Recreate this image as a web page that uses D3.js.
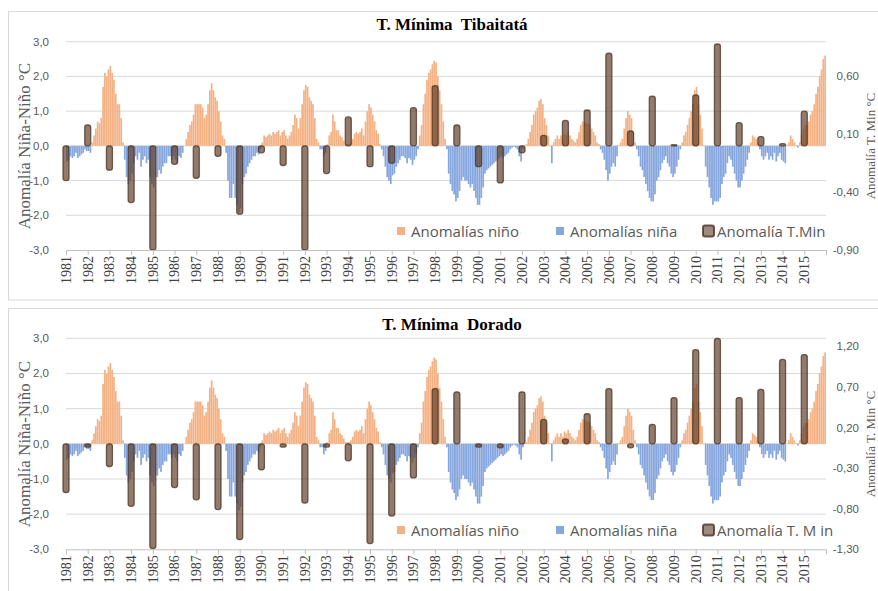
<!DOCTYPE html>
<html><head><meta charset="utf-8">
<script src="https://cdn.jsdelivr.net/npm/d3@7/dist/d3.min.js"></script>
<style>body{margin:0;background:#fff;} svg{display:block;}</style>
</head><body>
<svg id="c" width="878" height="591"></svg>
<script>
// ---------- DATA ----------
const years = d3.range(1981, 2016);
const yearLabels = years.map(String);
// Monthly ENSO anomaly (°C), one row per year 1981..2015
const ensoMonthly = [
 -0.45,-0.4,-0.3,-0.35,-0.3,-0.2,-0.35,-0.3,-0.25,-0.2,-0.1,-0.15,
 -0.15,-0.2,0.1,0.3,0.5,0.7,0.65,0.8,1.7,2.1,2.0,2.2,
 2.3,2.1,1.9,1.5,1.2,1.2,0.8,0.1,-0.4,-0.9,-1.1,-1.0,
 -0.8,-0.5,-0.3,-0.4,-0.2,-0.6,-0.4,-0.3,-0.5,-0.4,-0.9,-1.1,
 -1.2,-0.9,-0.9,-0.7,-0.8,-0.6,-0.5,-0.5,-0.3,-0.3,-0.4,-0.3,
 -0.4,-0.5,-0.3,-0.35,-0.2,0.0,0.2,0.4,0.6,0.7,0.9,1.2,
 1.2,1.2,1.2,1.1,0.8,0.9,1.2,1.6,1.8,1.6,1.4,1.3,
 1.0,0.7,0.3,0.2,-0.2,-1.0,-1.5,-1.5,-1.1,-1.5,-1.7,-1.9,
 -1.8,-1.1,-0.9,-0.8,-0.6,-0.5,-0.4,-0.3,-0.3,-0.2,-0.25,-0.1,
 0.1,0.3,0.25,0.3,0.35,0.3,0.4,0.35,0.4,0.45,0.3,0.4,
 0.45,0.3,0.2,0.3,0.4,0.6,0.9,0.8,0.5,0.8,1.2,1.6,
 1.75,1.7,1.4,1.3,1.2,0.8,0.2,0.1,-0.1,-0.1,-0.3,-0.2,
 0.05,0.3,0.4,0.9,0.7,0.45,0.45,0.3,0.25,0.15,0.05,0.05,
 0.05,0.1,0.2,0.35,0.4,0.35,0.4,0.5,0.3,0.7,1.0,1.2,
 1.1,0.9,0.7,0.45,0.35,0.05,-0.1,-0.3,-0.6,-0.9,-1.0,-1.1,
 -0.85,-0.8,-0.6,-0.5,-0.4,-0.3,-0.3,-0.35,-0.5,-0.35,-0.4,-0.55,
 -0.4,-0.3,-0.1,0.3,0.6,1.2,1.5,1.9,2.1,2.2,2.35,2.45,
 2.4,2.0,1.6,1.2,0.7,0.2,-0.1,-0.8,-1.1,-1.3,-1.4,-1.6,
 -1.5,-1.3,-1.0,-0.9,-1.0,-1.0,-1.1,-1.2,-1.1,-1.3,-1.5,-1.7,
 -1.7,-1.5,-1.2,-0.8,-0.7,-0.65,-0.6,-0.55,-0.5,-0.45,-0.4,-0.35,
 -0.3,-0.35,-0.3,-0.25,-0.2,-0.1,-0.05,-0.02,-0.05,-0.1,-0.3,-0.45,
 -0.1,0.02,0.05,0.2,0.4,0.6,0.9,1.0,1.1,1.3,1.35,1.2,
 0.8,0.6,0.3,0.02,-0.5,0.1,0.2,0.3,0.2,0.3,0.2,0.35,
 0.3,0.4,0.3,0.2,0.15,0.1,0.2,0.4,0.6,0.7,0.7,0.65,
 0.65,0.6,0.5,0.4,0.3,0.1,0.05,-0.1,-0.2,-0.4,-0.7,-1.0,
 -0.8,-0.6,-0.5,-0.6,-0.3,0.02,0.1,0.2,0.5,0.8,1.0,0.9,
 0.8,0.4,0.1,-0.1,-0.3,-0.6,-0.7,-0.9,-1.1,-1.3,-1.5,-1.6,
 -1.6,-1.4,-1.0,-0.9,-0.7,-0.5,-0.4,-0.3,-0.5,-0.6,-0.8,-0.9,
 -0.8,-0.6,-0.4,-0.1,0.1,0.3,0.4,0.6,0.8,1.0,1.2,1.6,
 1.7,1.2,0.9,0.5,0.02,-0.6,-0.9,-1.2,-1.5,-1.7,-1.6,-1.6,
 -1.6,-1.5,-1.1,-0.9,-0.8,-0.5,-0.3,-0.4,-0.6,-0.8,-1.0,-1.2,
 -1.2,-1.0,-0.8,-0.6,-0.4,-0.2,0.1,0.3,0.25,0.2,0.1,-0.1,
 -0.3,-0.4,-0.3,-0.2,-0.4,-0.3,-0.4,-0.2,-0.45,-0.3,-0.2,-0.4,
 -0.45,-0.5,0.02,0.1,0.3,0.2,0.1,0.02,-0.05,0.1,0.3,0.5,
 0.6,0.6,0.7,0.9,1.0,1.2,1.5,1.7,2.0,2.2,2.5,2.6
];
// Annual minimum temperature anomaly (°C), secondary axis
const tminTibaitata = [-0.30,0.18,-0.21,-0.49,-0.90,-0.16,-0.28,-0.09,-0.59,-0.06,-0.17,-0.90,-0.24,0.25,-0.18,-0.15,0.33,0.52,0.18,-0.18,-0.32,-0.06,0.09,0.22,0.31,0.80,0.13,0.43,0.01,0.44,0.88,0.20,0.08,0.02,0.30];
const tminDorado = [-0.60,-0.04,-0.28,-0.77,-1.29,-0.54,-0.69,-0.81,-1.18,-0.32,-0.04,-0.73,-0.04,-0.21,-1.23,-0.89,-0.42,0.68,0.64,-0.04,-0.05,0.64,0.30,0.06,0.37,0.68,-0.05,0.24,0.57,1.16,1.30,0.57,0.67,1.04,1.10];
const leftTicks = [3,2,1,0,-1,-2,-3];
const rightTicksTibaitata = [0.6,0.1,-0.4,-0.9];
const rightTicksDorado = [1.2,0.7,0.2,-0.3,-0.8,-1.3];
const legendLabels1 = ["Anomalías niño","Anomalías niña","Anomalía T.Min"];
const legendLabels2 = ["Anomalías niño","Anomalías niña","Anomalía T. M in"];

// ---------- DRAW ----------
const svg = d3.select('#c');
const X0 = 66, X1 = 826;
const xMonth = d3.scaleBand().domain(d3.range(ensoMonthly.length)).range([X0, X1]).paddingInner(0.06).paddingOuter(0.03);
const xYear = d3.scaleLinear().domain([1981, 2016]).range([X0, X1]);
const cNino = '#F4B183', cNina = '#86A6DE';
const commaFmt = f => v => d3.format(f)(v).replace('.', ',').replace('−','-');

function drawPanel(p) {
  const g = svg.append('g');
  g.append('rect').attr('x',8.5).attr('y',p.frameTop).attr('width',900).attr('height',p.frameH)
    .attr('fill','none').attr('stroke','#d9d9d9');
  const yL = d3.scaleLinear().domain([-3,3]).range([p.yBot,p.yTop]);
  const yR = d3.scaleLinear().domain(p.rDomain).range([p.yBot,p.yTop]);

  g.selectAll('line.grid').data(leftTicks.filter(d=>d>-3)).join('line').attr('class','grid')
    .attr('x1',X0).attr('x2',X1).attr('y1',d=>yL(d)).attr('y2',d=>yL(d))
    .attr('stroke','#d9d9d9').attr('stroke-width',1);

  g.selectAll('text.lt').data(leftTicks).join('text').attr('class','lt')
    .attr('x',49).attr('y',d=>yL(d)+4).attr('text-anchor','end')
    .attr('font-family','Liberation Sans, Arial, sans-serif').attr('font-size',11.5).attr('fill','#595959')
    .text(commaFmt('.1f'));
  g.selectAll('text.rt').data(p.rTicks).join('text').attr('class','rt')
    .attr('x',859).attr('y',d=>yR(d)+4).attr('text-anchor','end')
    .attr('font-family','Liberation Sans, Arial, sans-serif').attr('font-size',11.5).attr('fill','#595959')
    .text(commaFmt('.2f'));

  const md = ensoMonthly.map((v,i)=>({v,i}));
  g.selectAll('rect.nino').data(md.filter(d=>d.v>0)).join('rect').attr('class','nino')
    .attr('x',d=>xMonth(d.i)).attr('width',xMonth.bandwidth())
    .attr('y',d=>yL(d.v)).attr('height',d=>yL(0)-yL(d.v)).attr('fill',cNino);
  g.selectAll('rect.nina').data(md.filter(d=>d.v<0)).join('rect').attr('class','nina')
    .attr('x',d=>xMonth(d.i)).attr('width',xMonth.bandwidth())
    .attr('y',yL(0)).attr('height',d=>yL(d.v)-yL(0)).attr('fill',cNina);

  const bw = 6;
  g.selectAll('rect.tmin').data(p.tmin.map((v,i)=>({v,year:years[i]}))).join('rect').attr('class','tmin')
    .attr('x',d=>xYear(d.year)-bw/2).attr('width',bw)
    .attr('y',d=>Math.min(yR(d.v),yR(0))).attr('height',d=>Math.abs(yR(d.v)-yR(0)))
    .attr('rx',2.5).attr('ry',2.5)
    .attr('fill','#5e3d26').attr('fill-opacity',0.68)
    .attr('stroke','#4a3222').attr('stroke-opacity',0.75).attr('stroke-width',1.3);

  const axis = d3.axisBottom(xYear).tickValues(d3.range(1981,2017)).tickSize(5).tickFormat('');
  const ax = g.append('g').attr('transform',`translate(0,${p.yBot})`).call(axis);
  ax.select('.domain').attr('stroke','#bfbfbf');
  ax.selectAll('.tick line').attr('stroke','#bfbfbf');

  g.selectAll('text.yr').data(years).join('text').attr('class','yr')
    .attr('transform',d=>`translate(${xYear(d)+4.8},${p.yBot+6}) rotate(-90)`)
    .attr('text-anchor','end').attr('font-family','Liberation Serif, Times New Roman, serif')
    .attr('font-size',14).attr('fill','#404040').text((d,i)=>yearLabels[i]);

  g.append('text').attr('x',452).attr('y',p.titleY).attr('text-anchor','middle')
    .attr('font-family','Liberation Serif, Times New Roman, serif').attr('font-weight','bold')
    .attr('font-size',17).attr('fill','#000').attr('xml:space','preserve').text(p.title);

  g.append('text').attr('transform',`translate(30,${p.yMid}) rotate(-90)`).attr('text-anchor','middle')
    .attr('font-family','Liberation Serif, Times New Roman, serif').attr('font-size',17).attr('fill','#595959')
    .text('Anomalía Niña-Niño °C');
  g.append('text').attr('transform',`translate(875,${p.yMid}) rotate(-90)`).attr('text-anchor','middle')
    .attr('font-family','Liberation Serif, Times New Roman, serif').attr('font-size',13).attr('fill','#595959')
    .text('Anomalía T. Min °C');

  // legend
  const lg = g.append('g').attr('font-family','Open Sans, Liberation Sans, sans-serif').attr('font-size',15).attr('fill','#595959');
  const lx = [397, 556, 702];
  lg.append('rect').attr('x',lx[0]).attr('y',p.legendY-4).attr('width',8).attr('height',8).attr('fill',cNino);
  lg.append('rect').attr('x',lx[1]).attr('y',p.legendY-4).attr('width',8).attr('height',8).attr('fill',cNina);
  lg.append('rect').attr('x',lx[2]+1).attr('y',p.legendY-5.5).attr('width',11).attr('height',11).attr('rx',2)
    .attr('fill','#5e3d26').attr('fill-opacity',0.6).attr('stroke','#4a3222').attr('stroke-opacity',0.8).attr('stroke-width',2);
  const tx = [411, 570, 717];
  p.legend.forEach((t,i)=>{
    lg.append('text').attr('x',tx[i]).attr('y',p.legendY+5.5).text(t);
  });
}

drawPanel({title:'T. Mínima  Tibaitatá', frameTop:11.5, frameH:288.5, titleY:30,
  yTop:41.7, yBot:250, yMid:146, rDomain:[-0.9,0.9], rTicks:rightTicksTibaitata,
  tmin:tminTibaitata, legendY:231, legend:legendLabels1});
drawPanel({title:'T. Mínima  Dorado', frameTop:308.5, frameH:300, titleY:330,
  yTop:338.3, yBot:549.3, yMid:444, rDomain:[-1.3,1.3], rTicks:rightTicksDorado,
  tmin:tminDorado, legendY:530, legend:legendLabels2});
</script>
</body></html>
